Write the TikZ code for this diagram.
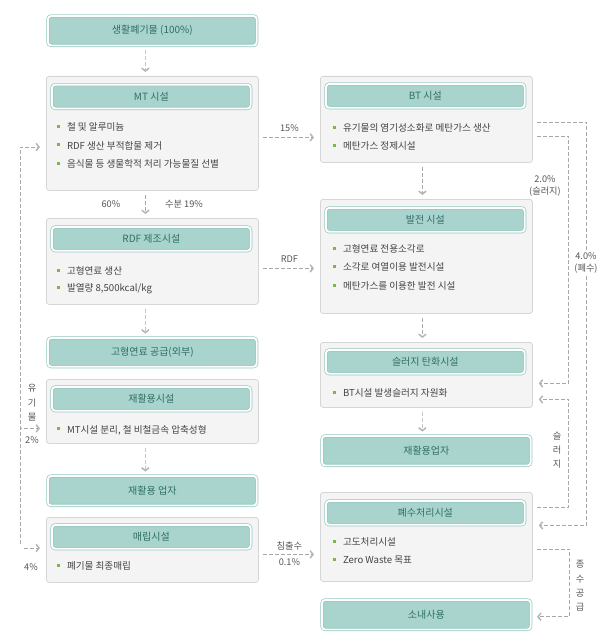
\documentclass[tikz,border=0pt]{standalone}
\usepackage{fontspec}
\setmainfont{Noto Sans CJK KR}
\usetikzlibrary{arrows.meta,calc}
\definecolor{hdfill}{HTML}{A9D3CD}
\definecolor{hdline}{HTML}{94C8C0}
\definecolor{hdtext}{HTML}{2F6F64}
\definecolor{pnfill}{HTML}{F4F4F4}
\definecolor{pnline}{HTML}{D6D6D6}
\definecolor{bltext}{HTML}{444444}
\definecolor{lbtext}{HTML}{555555}
\definecolor{bulgreen}{HTML}{7AB648}
\definecolor{lnk}{HTML}{A8A8A8}
\definecolor{tipc}{HTML}{B4B4B4}
\newcommand\bul{{\color{bulgreen}\rule[0.28em]{2.3pt}{2.3pt}}\hspace{5pt}}

\begin{document}
\begin{tikzpicture}[x=0.75pt, y=-0.75pt,
  panel/.style={draw=pnline, fill=pnfill, rounded corners=2pt, line width=0.6pt,
    anchor=north west, minimum width=159pt, inner sep=0pt},
  head/.style={draw=hdline, double=white, double distance=1.4pt, line width=0.5pt,
    fill=hdfill, rounded corners=2.5pt, anchor=north west, minimum width=149.1pt,
    minimum height=17.85pt, inner sep=0pt, text=hdtext, font=\fontsize{7.5}{9}\selectfont},
  box/.style={head, minimum width=156.6pt, minimum height=22.2pt},
  itm/.style={anchor=west, inner sep=0pt, text=bltext, font=\fontsize{7.2}{8}\selectfont},
  lbl/.style={inner sep=0.6pt, text=lbtext, align=center, font=\fontsize{6.9}{9}\selectfont},
  flow/.style={draw=lnk, dash pattern=on 3pt off 1.5pt, line width=0.5pt,
    -{Straight Barb[length=2.2pt,width=5.5pt,line width=1.1pt,color=tipc]}},
  link/.style={flow, -},
  down/.style={flow, shorten <=3pt, shorten >=3pt},
  side/.style={flow, shorten <=3pt, shorten >=4.5pt}]
\useasboundingbox (0,0) rectangle (600,642);

% left column
\node[box] (waste) at (47.6,15.6) {생활폐기물 (100\%)};

\node[panel, minimum height=85.5pt] (mt) at (46,76) {};
\node[head] (mth) at (51.6,84.3) {MT 시설};
\node[itm] (mt1) at (57,127) {\bul 철 및 알루미늄};
\node[itm] (mt2) at (57,145.5) {\bul RDF 생산 부적합물 제거};
\node[itm] (mt3) at (57,164) {\bul 음식물 등 생물학적 처리 가능물질 선별};

\node[panel, minimum height=64.5pt] (rdf) at (46,218) {};
\node[head] (rdfh) at (51.6,226.6) {RDF 제조시설};
\node[itm] (rdf1) at (57,271) {\bul 고형연료 생산};
\node[itm] (rdf2) at (57,289) {\bul 발열량 8,500kcal/kg};

\node[box, minimum height=21.6pt] (fuel) at (47.6,337.6) {고형연료 공급(외부)};

\node[panel, minimum height=48pt] (rec) at (46,379) {};
\node[head] (rech) at (51.6,386.6) {재활용시설};
\node[itm] (rec1) at (57,430) {\bul MT시설 분리, 철 비철금속 압축성형};

\node[box] (recy) at (47.6,475.6) {재활용 업자};

\node[panel, minimum height=48.75pt] (land) at (46,517) {};
\node[head] (landh) at (51.6,524.6) {매립시설};
\node[itm] (land1) at (57,566) {\bul 폐기물 최종매립};

% right column
\node[panel, minimum height=64.5pt] (bt) at (320,76) {};
\node[head] (bth) at (325.6,83.6) {BT 시설};
\node[itm] (bt1) at (333,128) {\bul 유기물의 염기성소화로 메탄가스 생산};
\node[itm] (bt2) at (333,146) {\bul 메탄가스 정제시설};

\node[panel, minimum height=85.5pt] (pow) at (320,199) {};
\node[head] (powh) at (325.6,207.6) {발전 시설};
\node[itm] (pow1) at (333,249) {\bul 고형연료 전용소각로};
\node[itm] (pow2) at (333,267) {\bul 소각로 여열이용 발전시설};
\node[itm] (pow3) at (333,286) {\bul 메탄가스를 이용한 발전 시설};

\node[panel, minimum height=48.75pt] (slu) at (320,342) {};
\node[head] (sluh) at (325.6,349.6) {슬러지 탄화시설};
\node[itm] (slu1) at (333,393) {\bul BT시설 발생슬러지 자원화};

\node[box] (reu) at (321.6,435.6) {재활용업자};

\node[panel, minimum height=66.75pt] (ww) at (320,492) {};
\node[head] (wwh) at (325.6,500.6) {폐수처리시설};
\node[itm] (ww1) at (333,542) {\bul 고도처리시설};
\node[itm] (ww2) at (333,560) {\bul Zero Waste 목표};

\node[box] (use) at (321.6,599.6) {소내사용};

% down arrows
\draw[down] ([xshift=-5.25pt]waste.south) -- ([xshift=-5.25pt]mt.north);
\draw[down] ([xshift=-5.25pt]mt.south) -- ([xshift=-5.25pt]rdf.north)
  node[lbl, pos=0.5, left=18pt] (p60) {60\%}
  node[lbl, pos=0.5, right=14pt] (p19) {수분 19\%};
\draw[down] ([xshift=-5.25pt]rdf.south) -- ([xshift=-5.25pt]fuel.north);
\draw[down] ([xshift=-5.25pt]rec.south) -- ([xshift=-5.25pt]recy.north);
\draw[down] ([xshift=-3pt]bt.south) -- ([xshift=-3pt]pow.north);
\draw[down] ([xshift=-3pt]pow.south) -- ([xshift=-3pt]slu.north);
\draw[down] ([xshift=-3pt]slu.south) -- ([xshift=-3pt]reu.north);

% across
\draw[side] ($(mt.east)+(0,4)$) -- ($(bt.west)+(0,18)$)
  node[lbl, midway, above=3.5pt] (p15) {15\%};
\draw[side] ($(rdf.east)+(0,7)$) -- ($(pow.west)+(0,12)$)
  node[lbl, midway, above=3.5pt] (prdf) {RDF};
\draw[side] ($(land.east)+(0,4.5)$) -- ($(ww.west)+(0,17.5)$)
  node[lbl, midway, above=2.5pt] (pcs) {침출수}
  node[lbl, midway, below=2.5pt] (p01) {0.1\%};

% right loops
\draw[side] ($(bt.east)+(0,3)$) -- ++(54,0) |- ($(ww.east)+(0,-11.5)$);
\draw[side] ($(bt.east)+(0,17)$) -- ++(36,0) |- ($(slu.east)+(0,8.5)$);
\draw[side] ($(ww.east)+(0,-29.5)$) -- ++(36,0) |- ($(slu.east)+(0,24.5)$);
\draw[side] ($(ww.east)+(0,12.5)$) -- ++(37,0) |- ($(use.east)+(0,2)$);
\node[lbl, fill=white] (p40) at (586,263) {4.0\%\\(폐수)};
\node[lbl] (p20) at (545,186) {2.0\%\\(슬러지)};
\node[lbl, font=\fontsize{6.9}{10.5}\selectfont] (psl) at (557,450) {슬\\러\\지};
\node[lbl, font=\fontsize{6.9}{10.8}\selectfont] (pjs) at (580,586) {종\\수\\공\\급};

% left loop
\coordinate (orgT) at (20,147);
\coordinate (orgB) at (20,548);
\draw[side] (orgB) |- (mt.west |- orgT);
\draw[side] (orgB) |- ($(rec.west)+(0,17)$);
\draw[side] (orgB) -- (land.west |- orgB);
\node[lbl, font=\fontsize{6.9}{10.8}\selectfont] (porg) at (32,403) {유\\기\\물};
\node[lbl] (p2) at (32,440) {2\%};
\node[lbl] (p4) at (31,567) {4\%};
\end{tikzpicture}
\end{document}
